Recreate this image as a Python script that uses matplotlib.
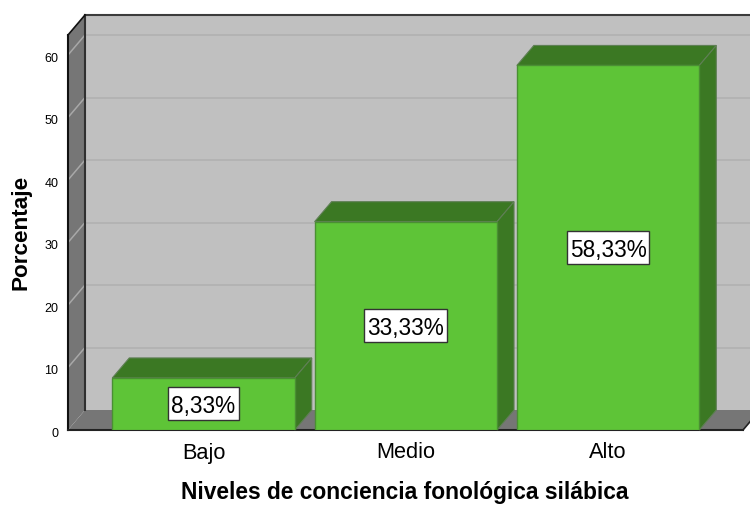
import matplotlib
matplotlib.use('Agg')
import matplotlib.pyplot as plt
from matplotlib.patches import Polygon, Rectangle
from matplotlib.transforms import ScaledTranslation

plt.rcParams['font.family'] = ['Liberation Sans', 'DejaVu Sans']

categories = ['Bajo', 'Medio', 'Alto']
porcentajes = [8.33, 33.33, 58.33]
etiquetas = ['8,33%', '33,33%', '58,33%']
yticks = [0, 10, 20, 30, 40, 50, 60]

WALL = '#767676'
BACK = '#c0c0c0'
GREEN = '#5ec437'
DARK = '#3b7823'

# tamaño de la "profundidad" 3D en unidades de datos
dx = 0.084
dy = 3.2
ytop = 63.2
xleft = -0.67
xright = 2.667
bar_w = 0.902

fig = plt.figure(figsize=(7.5, 5.05), dpi=100)
ax = fig.add_axes([68 / 750, 75 / 505, 675 / 750, 395 / 505])
ax.set_xlim(xleft, xright)
ax.set_ylim(0, ytop)
for s in ax.spines.values():
    s.set_visible(False)


def poly(pts, fc, ec='none', lw=0, z=1):
    p = Polygon(pts, closed=True, facecolor=fc, edgecolor=ec, linewidth=lw, zorder=z, clip_on=False)
    ax.add_patch(p)


# pared del fondo, pared lateral y piso
poly([(xleft + dx, dy), (xright + dx, dy), (xright + dx, ytop + dy), (xleft + dx, ytop + dy)], BACK)
poly([(xleft, 0), (xleft + dx, dy), (xleft + dx, ytop + dy), (xleft, ytop)], WALL)
poly([(xleft, 0), (xright, 0), (xright + dx, dy), (xleft + dx, dy)], WALL)

# rejilla
for t in yticks[1:]:
    ax.plot([xleft + dx, xright + dx], [t + dy, t + dy], color='#b0b0b0', lw=1.1, zorder=2, clip_on=False)
    ax.plot([xleft, xleft + dx], [t, t + dy], color='#a8a8a8', lw=1.1, zorder=2, clip_on=False)

# bordes del cubo
ax.plot([xleft + dx, xright + dx], [ytop + dy, ytop + dy], color='#3c3c3c', lw=1.5, zorder=3, clip_on=False)
ax.plot([xleft + dx, xleft + dx], [dy, ytop + dy], color='#303030', lw=1.5, zorder=3, clip_on=False)
ax.plot([xleft, xleft], [0, ytop], color='#111111', lw=1.5, zorder=3, clip_on=False)
ax.plot([xleft, xleft + dx], [ytop, ytop + dy], color='#111111', lw=1.2, zorder=3, clip_on=False)
ax.plot([xleft, xright], [0, 0], color='#222222', lw=1.5, zorder=3, clip_on=False)
ax.plot([xright, xright + dx], [0, dy], color='#222222', lw=1.2, zorder=3, clip_on=False)

# barras
for i, v in enumerate(porcentajes):
    x0 = i - bar_w / 2
    x1 = i + bar_w / 2
    poly([(x0, v), (x1, v), (x1 + dx, v + dy), (x0 + dx, v + dy)], DARK, '#5f7f55', 0.8, 4)
    poly([(x1, 0), (x1 + dx, dy), (x1 + dx, v + dy), (x1, v)], DARK, '#5f7f55', 0.8, 4)
    ax.bar(i, v, width=bar_w, color=GREEN, edgecolor='#4a8f33', linewidth=1, zorder=5)

# etiquetas con caja blanca (alto fijo, ancho segun el texto)
renderer = fig.canvas.get_renderer()
for i, v in enumerate(porcentajes):
    t = ax.text(i, v / 2, etiquetas[i], ha='center', va='center_baseline', fontsize=16.3, color='black', zorder=7)
    bb = t.get_window_extent(renderer)
    cx, cy = ax.transData.transform((i, v / 2))
    w = bb.width + 6
    h = 33
    ax.add_patch(Rectangle((cx - w / 2, cy - h / 2), w, h, transform=None, facecolor='white',
                           edgecolor='#333333', linewidth=1, zorder=6, clip_on=False))

ax.set_xticks(range(len(categories)))
ax.set_xticklabels(categories, fontsize=15.7)
ax.set_yticks(yticks)
ax.tick_params(axis='x', length=0, pad=9)
ax.tick_params(axis='y', length=0, pad=7, labelsize=9)
for lab in ax.get_yticklabels():
    lab.set_transform(lab.get_transform() + ScaledTranslation(0, -1.5 / 72, fig.dpi_scale_trans))

fig.text(405 / 750, 1 - 493 / 505, 'Niveles de conciencia fonológica silábica', ha='center', va='center',
         fontsize=16.4, fontweight='bold')
fig.text(21 / 750, 1 - 232 / 505, 'Porcentaje', ha='center', va='center', rotation=90,
         fontsize=16.2, fontweight='bold')

fig.savefig('out.png', dpi=100)
